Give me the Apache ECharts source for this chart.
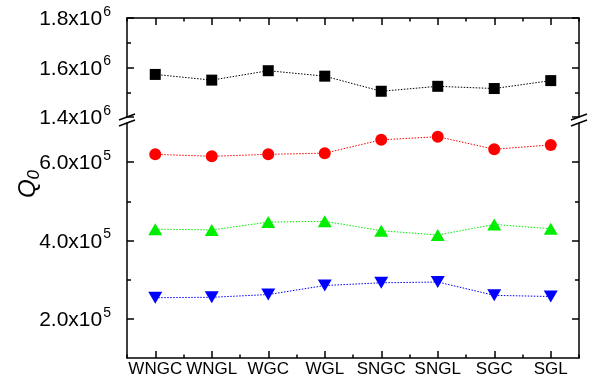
<!DOCTYPE html>
<html><head><meta charset="utf-8">
<script src="https://cdn.jsdelivr.net/npm/echarts@6/dist/echarts.min.js"></script>
<style>html,body{margin:0;padding:0;background:#fff}#c{width:592px;height:384px}</style>
</head><body><div id="c"></div>
<script>
const categories = ['WNGC','WNGL','WGC','WGL','SNGC','SNGL','SGC','SGL'];
const blackSquare = [1.572e6,1.549e6,1.587e6,1.565e6,1.504e6,1.524e6,1.515e6,1.547e6];
const redCircle   = [6.20e5,6.15e5,6.20e5,6.23e5,6.57e5,6.65e5,6.33e5,6.44e5];
const greenUp     = [4.29e5,4.27e5,4.47e5,4.49e5,4.25e5,4.14e5,4.41e5,4.30e5];
const blueDown    = [2.54e5,2.55e5,2.62e5,2.85e5,2.92e5,2.94e5,2.60e5,2.57e5];
const upperMajor = [1.4e6,1.6e6,1.8e6];
const upperMinor = [1.5e6,1.7e6];
const lowerMajor = [2e5,4e5,6e5];
const lowerMinor = [3e5,5e5];

const FONT = 'Liberation Sans, Arial, sans-serif';
const L = 127, R = 13, T0 = 18, B0 = 117, T1 = 123, B1 = 358, W = 592, H = 384;
const lineStyle = {color:'#000', width:1.5};

function fmt(v){
  const e = Math.floor(Math.log10(v) + 1e-9);
  const m = v / Math.pow(10, e);
  return '{a|' + m.toFixed(1) + 'x10}{s|' + e + '}';
}
const richY = {
  a:{fontSize:21, fontFamily:FONT, color:'#000', lineHeight:26, padding:[3,0,0,0]},
  s:{fontSize:14, fontFamily:FONT, color:'#000', verticalAlign:'top', lineHeight:26, padding:[0,0,12,1]}
};

function xAxes(gi, pos, showLine, showLabel){
  return [{
    type:'category', data:categories, gridIndex:gi, position:pos, boundaryGap:true,
    axisLine:{show:showLine, lineStyle},
    axisTick:{show:true, inside:true, alignWithLabel:true, length:7, lineStyle, interval:0},
    axisLabel:{show:showLabel, interval:0, fontSize:17, fontFamily:FONT, color:'#000', margin:3},
    splitLine:{show:false}
  },{
    type:'category', data:categories, gridIndex:gi, position:pos, boundaryGap:true,
    axisLine:{show:false},
    axisTick:{show:true, inside:true, alignWithLabel:false, length:3.5, lineStyle, interval:0},
    axisLabel:{show:false}, splitLine:{show:false}
  }];
}
function yAxes(gi, min, max, major, minor){
  const arr = [];
  ['left','right'].forEach(pos => {
    arr.push({
      type:'value', gridIndex:gi, position:pos, min, max,
      axisLine:{show:true, lineStyle},
      axisTick:{show:true, inside:true, length:7, lineStyle, customValues:major},
      axisLabel:{show:pos==='left', customValues:major, formatter:fmt, rich:richY, margin:16},
      splitLine:{show:false}
    });
    arr.push({
      type:'value', gridIndex:gi, position:pos, min, max,
      axisLine:{show:false},
      axisTick:{show:true, inside:true, length:4, lineStyle, customValues:minor},
      axisLabel:{show:false, customValues:minor},
      splitLine:{show:false}
    });
  });
  return arr;
}

const xAxis = [...xAxes(0,'top',true,false), ...xAxes(1,'bottom',true,true)];
const yAxis = [...yAxes(0,1.4e6,1.8e6,upperMajor,upperMinor), ...yAxes(1,1e5,7e5,lowerMajor,lowerMinor)];

function ser(data, color, symbol, size, rotate, xi, yi){
  return {type:'line', data, xAxisIndex:xi, yAxisIndex:yi, symbol, symbolSize:size, symbolRotate:rotate,
    showAllSymbol:true, animation:false,
    lineStyle:{color, width:1, type:[1.5,1.5]}, itemStyle:{color, borderWidth:0}, z:3};
}

function breakMarks(x, yc){
  return [-3,3].map(d => ({
    type:'line', shape:{x1:x-8, y1:yc+d+3, x2:x+8, y2:yc+d-3},
    style:{stroke:'#000', lineWidth:1.5}, z:100
  }));
}
const ym = (B0+T1)/2;

const chart = echarts.init(document.getElementById('c'), null, {renderer:'canvas'});
chart.setOption({
  animation:false,
  backgroundColor:'#fff',
  grid:[
    {left:L, right:R, top:T0, height:B0-T0, containLabel:false},
    {left:L, right:R, top:T1, bottom:H-B1, containLabel:false}
  ],
  xAxis, yAxis,
  series:[
    ser(blackSquare,'#000000','rect',11,0,0,0),
    ser(redCircle,'#ff0000','circle',12,0,2,4),
    ser(greenUp,'#00ee00','triangle',[14,12],0,2,4),
    ser(blueDown,'#0000ff','triangle',[14,12],180,2,4)
  ],
  graphic:[
    ...breakMarks(L, ym), ...breakMarks(W-R, ym),
    {type:'text', x:28, y:184, rotation:Math.PI/2,
     style:{text:'{q|Q}{z|0}', align:'center', verticalAlign:'middle',
       rich:{q:{fontSize:24, fontFamily:FONT, fontStyle:'italic', fill:'#000', lineHeight:30},
             z:{fontSize:17, fontFamily:FONT, fontStyle:'italic', fill:'#000', verticalAlign:'bottom', lineHeight:30, padding:[10,0,0,0]}}}}
  ]
});
</script></body></html>
